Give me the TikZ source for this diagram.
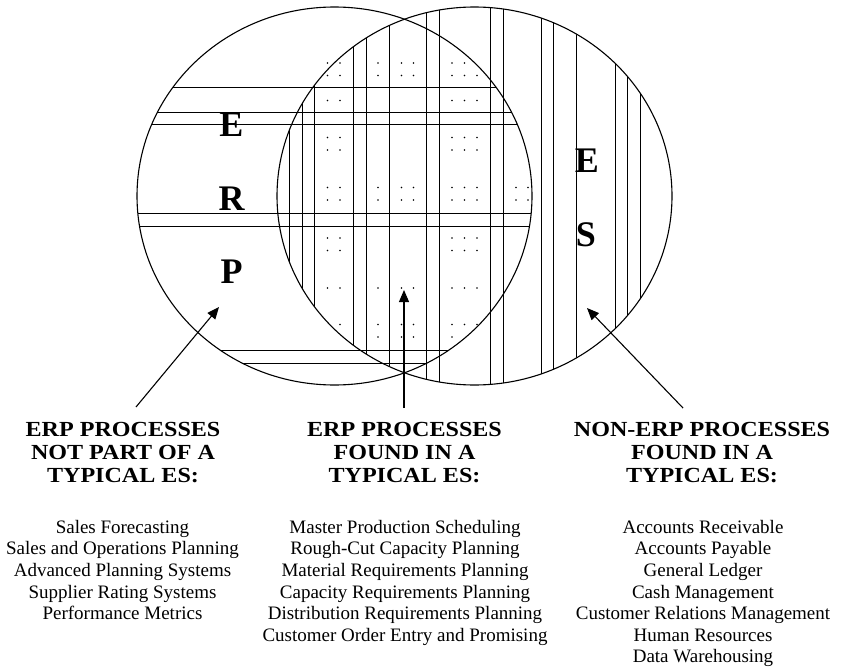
\documentclass[tikz,border=0pt]{standalone}
\usepackage{fontspec}
\setmainfont{Liberation Serif}
\newfontfamily\headfont[FakeStretch=1.12]{Liberation Serif}
\usetikzlibrary{arrows.meta}
\begin{document}
\begin{tikzpicture}[x=1pt,y=-1pt,
  hatch/.style={line width=1.0pt},
  outline/.style={line width=1.1pt},
  dotmark/.style={fill=black},
  bigletter/.style={font=\bfseries\fontsize{36}{36}\selectfont, inner sep=0pt},
  heading/.style={anchor=north, inner sep=0pt, align=center, font=\headfont\bfseries\fontsize{21.5}{22.7}\selectfont},
  items/.style={anchor=north, inner sep=0pt, align=center, font=\fontsize{19}{21.6}\selectfont},
  pointer/.style={line width=1.1pt, -{Triangle[length=12pt,width=10pt]}}]

\useasboundingbox (0,0) rectangle (841,669);
\fill[white] (0,0) rectangle (841,669);

% horizontal hatching inside the ERP circle
\begin{scope}
  \clip (334.5,196) ellipse [x radius=197.5, y radius=189];
  \foreach \y in {88,112,124,213,226,350,363}
    \draw[hatch] (120,\y) -- (550,\y);
\end{scope}

% vertical hatching inside the ES circle
\begin{scope}
  \clip (474.5,196) ellipse [x radius=197.5, y radius=189];
  \foreach \x in {289,302,314,353,366,389,426,439,490,503,541,553,576,615,627,640}
    \draw[hatch] (\x,0) -- (\x,400);
\end{scope}

% dot pattern in the overlap
\foreach \y/\xs in {
   63/{327.5,340,378,401.5,413.5,452,464.5},
   75.5/{327.5,340,378,401.5,413.5,452,464.5,477},
   100.5/{327.5,340,452,464.5,477},
   137.5/{327.5,340,452,464.5,477},
   150/{327.5,340,452,464.5,477},
   187.5/{327.5,340,378,401.5,413.5,452,464.5,477,516,528},
   200/{327.5,340,378,401.5,413.5,452,464.5,477,516,528},
   238/{327.5,340,452,464.5,477},
   250.5/{327.5,340,452,464.5,477},
   288/{327.5,340,378,401.5,413.5,452,464.5,477},
   324.5/{340,378,401.5,413.5,452,464.5,477},
   337/{378,401.5,413.5,452}}
  { \foreach \x in \xs \fill[dotmark] (\x,\y) circle[radius=0.8]; }

% circle outlines
\draw[outline] (334.5,196) ellipse [x radius=197.5, y radius=189];
\draw[outline] (474.5,196) ellipse [x radius=197.5, y radius=189];

% big letters
\node[bigletter] (lE) at (231.5,125) {E};
\node[bigletter] (lR) at (231.5,199) {R};
\node[bigletter] (lP) at (231.5,272) {P};
\node[bigletter] (rE) at (587,160.5) {E};
\node[bigletter] (rS) at (586,235) {S};

% headings
\node[heading] (h1) at (123,422.5) {ERP PROCESSES\\NOT PART OF A\\TYPICAL ES:};
\node[heading] (h2) at (404.5,422.5) {ERP PROCESSES\\FOUND IN A\\TYPICAL ES:};
\node[heading] (h3) at (702,422.5) {NON-ERP PROCESSES\\FOUND IN A\\TYPICAL ES:};

% lists
\node[items] (l1) at (122.5,520) {Sales Forecasting\\Sales and Operations Planning\\Advanced Planning Systems\\Supplier Rating Systems\\Performance Metrics};
\node[items] (l2) at (405,520) {Master Production Scheduling\\Rough-Cut Capacity Planning\\Material Requirements Planning\\Capacity Requirements Planning\\Distribution Requirements Planning\\Customer Order Entry and Promising};
\node[items] (l3) at (703,520) {Accounts Receivable\\Accounts Payable\\General Ledger\\Cash Management\\Customer Relations Management\\Human Resources\\Data Warehousing};

% arrows
\coordinate (t1) at (136,407);
\coordinate (p1) at (219,307);
\coordinate (t2) at (404,408);
\coordinate (p2) at (404,290);
\coordinate (t3) at (683,408);
\coordinate (p3) at (587,308);
\draw[pointer] (t1) -- (p1);
\draw[pointer] (t2) -- (p2);
\draw[pointer] (t3) -- (p3);
\end{tikzpicture}
\end{document}
